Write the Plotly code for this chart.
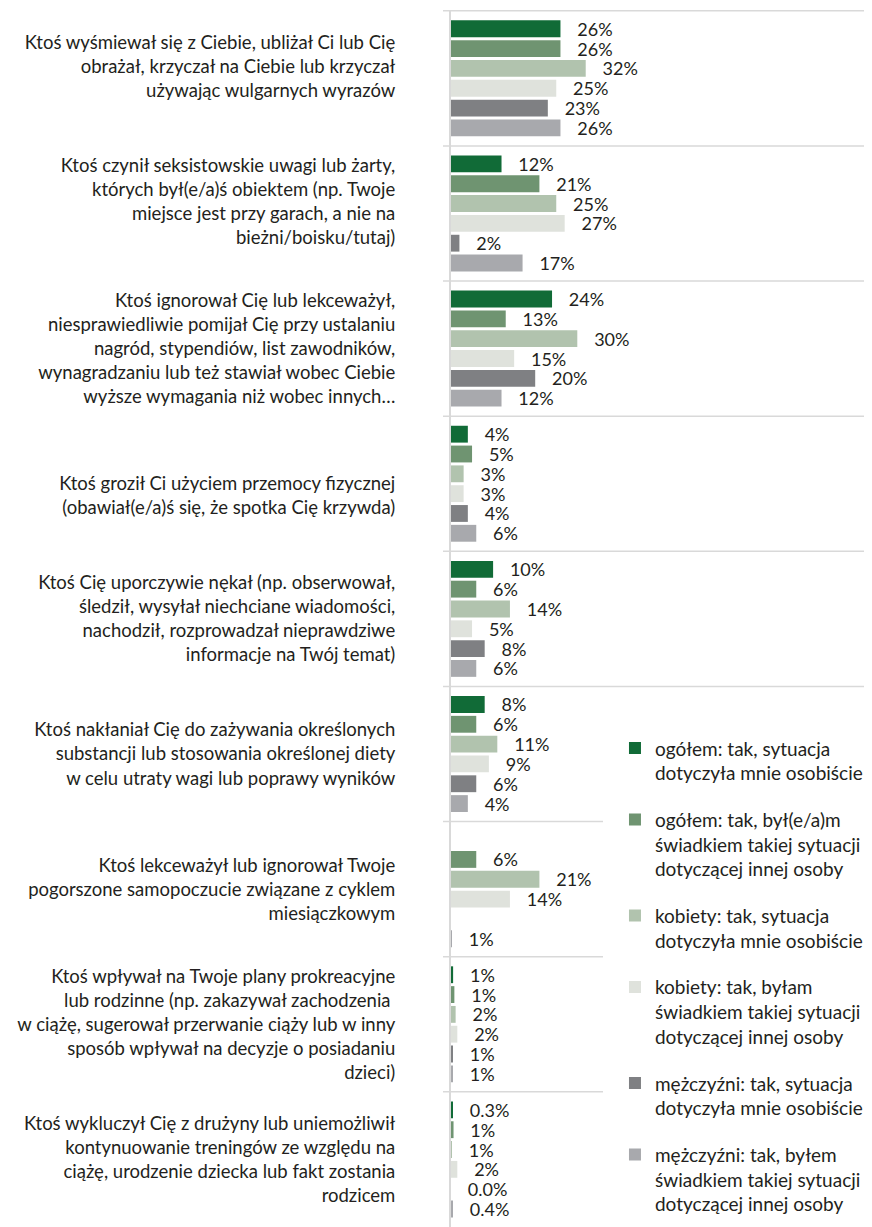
import plotly.graph_objects as go

categories = [
    "Ktoś wyśmiewał się z Ciebie, ubliżał Ci lub Cię<br>obrażał, krzyczał na Ciebie lub krzyczał<br>używając wulgarnych wyrazów<br>\u00a0",
    "Ktoś czynił seksistowskie uwagi lub żarty,<br>których był(e/a)ś obiektem (np. Twoje<br>miejsce jest przy garach, a nie na<br>bieżni/boisku/tutaj)<br>\u00a0",
    "Ktoś ignorował Cię lub lekceważył,<br>niesprawiedliwie pomijał Cię przy ustalaniu<br>nagród, stypendiów, list zawodników,<br>wynagradzaniu lub też stawiał wobec Ciebie<br>wyższe wymagania niż wobec innych…",
    "\u00a0<br>Ktoś groził Ci użyciem przemocy fizycznej<br>(obawiał(e/a)ś się, że spotka Cię krzywda)",
    "Ktoś Cię uporczywie nękał (np. obserwował,<br>śledził, wysyłał niechciane wiadomości,<br>nachodził, rozprowadzał nieprawdziwe<br>informacje na Twój temat)",
    "Ktoś nakłaniał Cię do zażywania określonych<br>substancji lub stosowania określonej diety<br>w celu utraty wagi lub poprawy wyników",
    "Ktoś lekceważył lub ignorował Twoje<br>pogorszone samopoczucie związane z cyklem<br>miesiączkowym",
    "Ktoś wpływał na Twoje plany prokreacyjne<br>lub rodzinne (np. zakazywał zachodzenia <br>w ciążę, sugerował przerwanie ciąży lub w inny<br>sposób wpływał na decyzje o posiadaniu<br>dzieci)",
    "Ktoś wykluczył Cię z drużyny lub uniemożliwił<br>kontynuowanie treningów ze względu na<br>ciążę, urodzenie dziecka lub fakt zostania<br>rodzicem",
]

series_names = [
    "ogółem: tak, sytuacja<br>dotyczyła mnie osobiście",
    "ogółem: tak, był(e/a)m<br>świadkiem takiej sytuacji<br>dotyczącej innej osoby",
    "kobiety: tak, sytuacja<br>dotyczyła mnie osobiście",
    "kobiety: tak, byłam<br>świadkiem takiej sytuacji<br>dotyczącej innej osoby",
    "mężczyźni: tak, sytuacja<br>dotyczyła mnie osobiście",
    "mężczyźni: tak, byłem<br>świadkiem takiej sytuacji<br>dotyczącej innej osoby",
]

ogolem_osobiscie = [26, 12, 24, 4, 10, 8, None, 0.5, 0.3]
ogolem_swiadek = [26, 21, 13, 5, 6, 6, 6, 0.8, 0.6]
kobiety_osobiscie = [32, 25, 30, 3, 14, 11, 21, 1.1, 0.2]
kobiety_swiadek = [25, 27, 15, 3, 5, 9, 14, 1.5, 1.5]
mezczyzni_osobiscie = [23, 2, 20, 4, 8, 6, None, 0.3, 0.0]
mezczyzni_swiadek = [26, 17, 12, 6, 6, 4, 0.1, 0.4, 0.4]

ogolem_osobiscie_txt = ["26%", "12%", "24%", "4%", "10%", "8%", "", "1%", "0.3%"]
ogolem_swiadek_txt = ["26%", "21%", "13%", "5%", "6%", "6%", "6%", "1%", "1%"]
kobiety_osobiscie_txt = ["32%", "25%", "30%", "3%", "14%", "11%", "21%", "2%", "1%"]
kobiety_swiadek_txt = ["25%", "27%", "15%", "3%", "5%", "9%", "14%", "2%", "2%"]
mezczyzni_osobiscie_txt = ["23%", "2%", "20%", "4%", "8%", "6%", "", "1%", "0.0%"]
mezczyzni_swiadek_txt = ["26%", "17%", "12%", "6%", "6%", "4%", "1%", "1%", "0.4%"]

values = [ogolem_osobiscie, ogolem_swiadek, kobiety_osobiscie,
          kobiety_swiadek, mezczyzni_osobiscie, mezczyzni_swiadek]
texts = [ogolem_osobiscie_txt, ogolem_swiadek_txt, kobiety_osobiscie_txt,
         kobiety_swiadek_txt, mezczyzni_osobiscie_txt, mezczyzni_swiadek_txt]
colors = ["#116b37", "#6f9471", "#b1c3ae", "#dfe2dc", "#7f8083", "#a8a9ad"]

FONT = "Lato"
TXT = "#231f20"

fig = go.Figure()
for i in range(6):
    fig.add_trace(go.Bar(
        y=categories, x=values[i], orientation="h",
        name=series_names[i], legendgroup=f"g{i}",
        marker=dict(color=colors[i], line=dict(width=0)),
        text=["\u00a0\u00a0\u00a0" + t if t else "" for t in texts[i]],
        textposition="outside", cliponaxis=False,
        constraintext="none",
        textfont=dict(family=FONT, size=18, color=TXT),
        hoverinfo="skip",
    ))

shapes = []
n = len(categories)
for k in range(n):
    yb = k - 0.5
    x1 = 1.0 if k <= 5 else 0.361
    shapes.append(dict(type="line", xref="paper", yref="y",
                       x0=-0.019, x1=x1, y0=yb, y1=yb,
                       line=dict(color="#d9d9d9", width=1.5), layer="below"))

fig.update_layout(
    width=864, height=1219,
    margin=dict(l=443, r=0, t=2, b=0),
    paper_bgcolor="white", plot_bgcolor="white",
    barmode="group", bargap=0.12, bargroupgap=0.15,
    font=dict(family=FONT, size=18, color=TXT),
    showlegend=True,
    legend=dict(x=0.3895, xanchor="left", y=0.409, yanchor="top",
                traceorder="grouped", tracegroupgap=19, valign="top",
                font=dict(family=FONT, size=19, color=TXT),
                bgcolor="rgba(0,0,0,0)"),
    shapes=shapes,
    xaxis=dict(range=[0, 100], showticklabels=False, showgrid=False,
               zeroline=False, showline=False, fixedrange=True),
    yaxis=dict(autorange="reversed", showline=True, linecolor="#d9d9d9",
               linewidth=2, showgrid=False, ticks="", ticklabelstandoff=50,
               tickfont=dict(family=FONT, size=18.5, color=TXT), fixedrange=True),
)

fig.write_html("out.html")
